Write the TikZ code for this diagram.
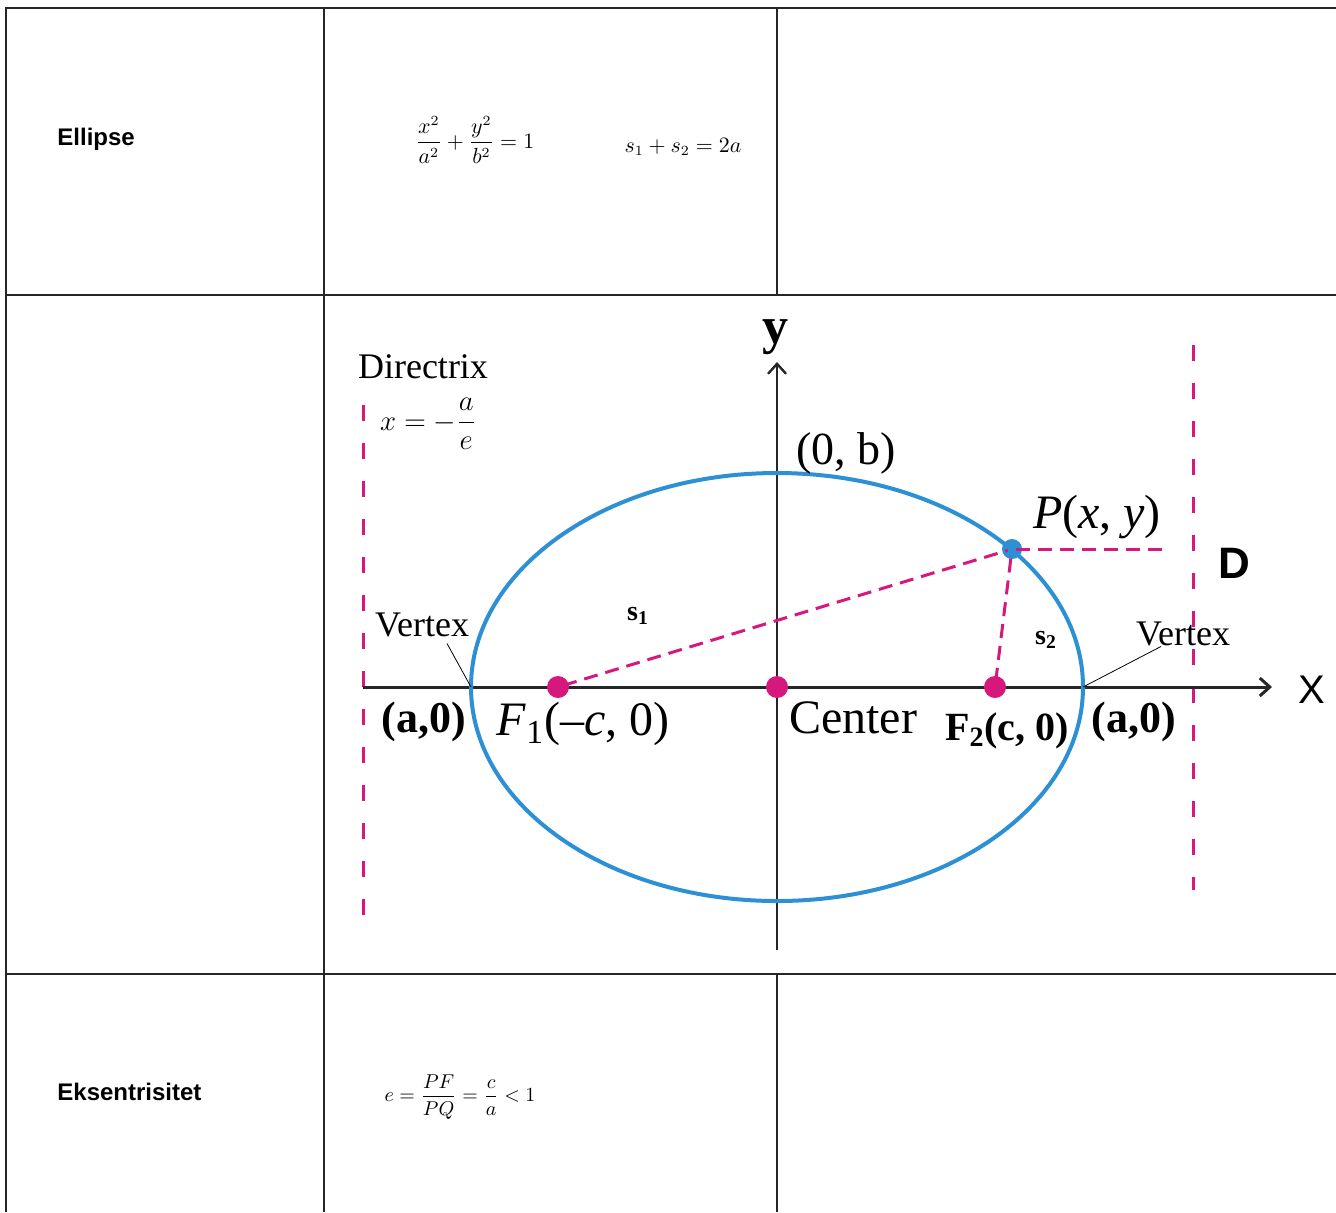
\documentclass[tikz,border=0pt]{standalone}
\usepackage{amsmath}
\usepackage{fontspec}
\setmainfont{Liberation Serif}
\setsansfont{Liberation Sans}
\usepackage{tikz}
\usetikzlibrary{positioning,arrows.meta,calc}
\definecolor{ellblue}{RGB}{45,143,212}
\definecolor{dirpink}{RGB}{214,24,124}
\newcommand{\fsz}[1]{\fontsize{#1}{#1}\selectfont}

\begin{document}
\begin{tikzpicture}[x=0.5pt,y=-0.5pt,
    tabline/.style={draw=black!85, line width=0.6pt},
    celltext/.style={anchor=west, inner sep=0pt, font=\sffamily\bfseries\fsz{12}},
    formula/.style={font=\fsz{10.5}},
    lbl/.style={font=\fsz{#1}, inner sep=0pt},
    lbl/.default=18,
    axis/.style={draw=black!85, line width=1.5pt},
    dirline/.style={draw=dirpink, line width=1.5pt, dash pattern=on 8pt off 11pt},
    focline/.style={draw=dirpink, line width=1.5pt, dash pattern=on 7pt off 4pt, shorten <=-3pt, shorten >=-3pt},
    fdot/.style={circle, fill=dirpink, inner sep=0pt, minimum size=11pt},
    pdot/.style={circle, fill=ellblue, inner sep=0pt, minimum size=10pt},
    leader/.style={draw=black, line width=0.4pt}]

\useasboundingbox (0,0) rectangle (1336,1212);

% -------------------------
% Parameters
% -------------------------
\def\ax{306}   % semi major axis
\def\by{214}   % semi minor axis

% -------------------------
% Table
% -------------------------
\draw[tabline, line width=1pt] (6,7.5) -- (1336,7.5);
\draw[tabline] (6,7) -- (6,1212);
\draw[tabline] (6,295) -- (1336,295);
\draw[tabline] (6,974) -- (1336,974);
\draw[tabline] (324,7) -- (324,1212);
\draw[tabline] (777,7) -- (777,295);
\draw[tabline] (777,974) -- (777,1212);

\node[celltext] (ell) at (57,139) {Ellipse};
\node[celltext] (eks) at (57,1092) {Eksentrisitet};

\node[formula] (eqell) at (475,140) {$\dfrac{x^2}{a^2}+\dfrac{y^2}{b^2}=1$};
\node[formula] (eqsum) at (683,147) {$s_1+s_2=2a$};
\node[formula, font=\fsz{9.8}] (eqecc) at (460,1097) {$e=\dfrac{PF}{PQ}=\dfrac{c}{a}<1$};

% -------------------------
% Directrices
% -------------------------
\draw[dirline] (363,405) -- (363,925);
\draw[dirline] (1193,345) -- (1193,890);

% -------------------------
% Axes and ellipse
% -------------------------
\coordinate (O) at (777,687);
\draw[axis, -{Straight Barb[length=5pt,width=9pt]}] (363,687) -- (1272,687);
\draw[axis, line width=1.2pt, -{Straight Barb[length=5pt,width=9pt]}] (777,950) -- (777,362);
\draw[ellblue, line width=2pt] (O) ellipse [x radius=\ax, y radius=\by];

\coordinate (V1) at (471,687);
\coordinate (V2) at (1083,687);
\coordinate (Dp) at (1162,549);

% -------------------------
% Foci, centre, point P
% -------------------------
\node[fdot] (F1) at (558,687) {};
\node[fdot] (F2) at (995,687) {};
\node[fdot] (C) at (O) {};
\node[pdot] (P) at (1012,549) {};

\draw[focline] (F1) -- (P);
\draw[focline] (F2) -- (P);
\draw[focline, shorten >=0pt] (P) -- (Dp);

% -------------------------
% Labels
% -------------------------
\node[lbl=26, font=\bfseries\fsz{26}] (ylab) at (775,337) {y};
\node[lbl, font=\sffamily\fsz{20}] (xlab) at (1312,690) {X};
\node[lbl] (dirx) at (423,367) {Directrix};
\node[lbl, font=\fsz{15}] (xeq) at (428,424) {$x=-\dfrac{a}{e}$};
\node[lbl=23] (b0) at (846,453) {(0, b)};
\node[lbl=24] (Plab) at (1097,517) {\textit{P}(\textit{x}, \textit{y})};
\node[lbl, font=\sffamily\bfseries\fsz{22}] (Dlab) at (1234,563) {D};
\node[lbl, font=\bfseries\fsz{14}] (s1) at (638,616) {s\textsubscript{1}};
\node[lbl, font=\bfseries\fsz{14}] (s2) at (1046,640) {s\textsubscript{2}};
\node[lbl] (vtxL) at (422,625) {Vertex};
\node[lbl] (vtxR) at (1183,634) {Vertex};
\draw[leader] ($(vtxL.south)+(25,6)$) -- (V1);
\draw[leader] ($(vtxR.south)+(-22,0)$) -- (V2);
\node[lbl=22, font=\bfseries\fsz{22}] (aL) at (424,722) {(a,0)};
\node[lbl=24] (F1lab) at (583,724) {\textit{F}\textsubscript{1}(--\textit{c}, 0)};
\node[lbl=24] (Clab) at (853,718) {Center};
\node[lbl, font=\bfseries\fsz{20}] (F2lab) at (1007,731) {F\textsubscript{2}(c, 0)};
\node[lbl=22, font=\bfseries\fsz{22}] (aR) at (1134,722) {(a,0)};

\end{tikzpicture}
\end{document}
